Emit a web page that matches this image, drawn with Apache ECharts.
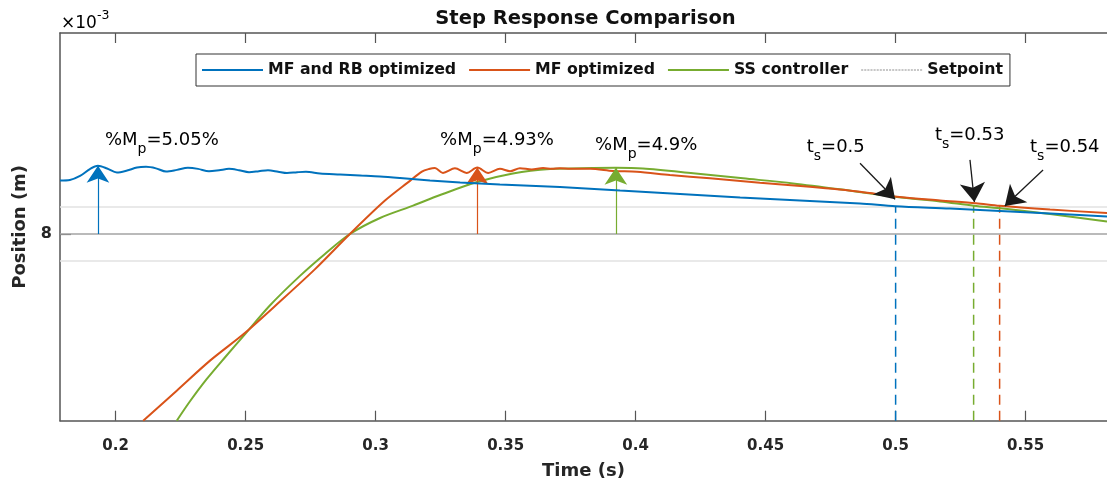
<!DOCTYPE html>
<html><head><meta charset="utf-8">
<script src="https://cdn.jsdelivr.net/npm/echarts@6/dist/echarts.min.js"></script>
<style>html,body{margin:0;padding:0;background:#fff}#c{width:1107px;height:487px}</style>
</head><body><div id="c"></div>
<script>
// ---------- data (time in s, position in units of 1e-3 m) ----------
const seriesNames = ['MF and RB optimized', 'MF optimized', 'SS controller', 'Setpoint'];
const seriesColors = ['#0072BD', '#D95319', '#77AC30', '#a3a3a3'];

const xTicks = [0.2, 0.25, 0.3, 0.35, 0.4, 0.45, 0.5, 0.55];
const yTicks = [8];
const xRange = [0.1786, 0.5813];
const yRange = [6.894, 9.191];

const tBlue = [0.1786,0.1824,0.1863,0.1901,0.1932,0.1967,0.2005,0.2044,0.2082,0.2117,0.2155,0.2194,0.2236,0.2278,0.2317,0.2359,0.2398,0.2436,0.2474,0.2513,0.2551,0.2586,0.2625,0.2659,0.2698,0.2732,0.2786,0.2863,0.2940,0.3017,0.3094,0.3209,0.3325,0.3478,0.3709,0.3940,0.4171,0.4402,0.4632,0.4863,0.5000,0.5209,0.5402,0.5594,0.5813];
const vBlue = [8.317,8.320,8.344,8.385,8.404,8.388,8.364,8.376,8.394,8.398,8.389,8.370,8.380,8.392,8.386,8.372,8.378,8.386,8.378,8.366,8.372,8.378,8.369,8.361,8.366,8.369,8.359,8.353,8.347,8.341,8.332,8.317,8.305,8.293,8.279,8.258,8.237,8.216,8.199,8.181,8.165,8.151,8.136,8.121,8.104];

const tOrange = [0.2106,0.2235,0.2363,0.2498,0.2632,0.2767,0.2901,0.3036,0.3132,0.3178,0.3205,0.3228,0.3259,0.3305,0.3350,0.3391,0.3433,0.3478,0.3517,0.3555,0.3600,0.3644,0.3678,0.3709,0.3748,0.3825,0.3913,0.4005,0.4132,0.4286,0.4478,0.4670,0.4863,0.5005,0.5171,0.5309,0.5400,0.5594,0.5813];
const vOrange = [6.894,7.072,7.250,7.415,7.600,7.792,8.000,8.198,8.315,8.370,8.385,8.391,8.362,8.389,8.362,8.394,8.362,8.386,8.372,8.390,8.383,8.391,8.386,8.390,8.386,8.387,8.374,8.369,8.350,8.330,8.304,8.280,8.251,8.221,8.199,8.182,8.167,8.145,8.124];

const tGreen = [0.2235,0.2286,0.2350,0.2421,0.2498,0.2594,0.2709,0.2805,0.2901,0.3017,0.3144,0.3248,0.3390,0.3528,0.3671,0.3836,0.3924,0.4028,0.4221,0.4413,0.4605,0.4786,0.5005,0.5171,0.5300,0.5413,0.5594,0.5813];
const vGreen = [6.894,7.009,7.140,7.270,7.407,7.578,7.752,7.882,8.000,8.095,8.168,8.231,8.308,8.359,8.385,8.391,8.392,8.388,8.360,8.330,8.300,8.265,8.219,8.193,8.168,8.151,8.119,8.074];

const setpoint = 8;
const bandLevels = [8.16, 7.84];

// overshoot annotations
const peakT = [0.1932, 0.3391, 0.3924];
const peakV = [8.404, 8.394, 8.392];
const peakText = ['5.05%', '4.93%', '4.9%'];
const peakLabelT = [0.1959, 0.3248, 0.3844];
const peakLabelV = [8.517, 8.517, 8.488];

// settling-time annotations
const settleT = [0.50, 0.53, 0.54];
const settleV = [8.165, 8.168, 8.167];
const settleText = ['0.5', '0.53', '0.54'];
const settleLabelT = [0.4658, 0.5151, 0.5517];
const settleLabelV = [8.478, 8.547, 8.478];
const settleArrowFromT = [0.4863, 0.5286, 0.5567];
const settleArrowFromV = [8.419, 8.439, 8.379];
const settleArrowToT = [0.4998, 0.5303, 0.5420];
const settleArrowToV = [8.206, 8.190, 8.166];

// ---------- chart ----------
const FONT = '"DejaVu Sans", "Liberation Sans", Arial, sans-serif';
const AX = '#555555';
const zip = (a, b) => a.map((x, i) => [x, b[i]]);
const curves = [zip(tBlue, vBlue), zip(tOrange, vOrange), zip(tGreen, vGreen)];
const settleColor = [seriesColors[0], seriesColors[2], seriesColors[1]];

// legend icons: solid bar, and a dotted bar for the setpoint
const solidIcon = 'rect';
let dots = '';
for (let i = 0; i < 60; i += 3) dots += 'M' + i + ',0h2v1h-2z';
const dottedIcon = 'path://' + dots;

const chart = echarts.init(document.getElementById('c'), null, {renderer: 'canvas'});

const series = [];
bandLevels.forEach(b => series.push({
  type: 'line', name: 'band', data: [[xRange[0], b], [xRange[1], b]], symbol: 'none', silent: true,
  lineStyle: {color: '#e2e2e2', width: 1.5}, z: 1
}));
series.push({
  type: 'line', name: 'Setpoint', data: [[xRange[0], setpoint], [xRange[1], setpoint]], symbol: 'none', silent: true,
  lineStyle: {color: seriesColors[3], width: 1.5}, itemStyle: {color: '#8f8f8f'}, z: 1,
  markLine: {
    silent: true, symbol: ['none', 'arrow'], symbolSize: 19, label: {show: false}, animation: false,
    lineStyle: {color: '#1a1a1a', width: 1.3, type: 'solid'},
    data: settleArrowFromT.map((t, i) => [{coord: [t, settleArrowFromV[i]]}, {coord: [settleArrowToT[i], settleArrowToV[i]]}])
  }
});
settleT.forEach((t, i) => series.push({
  type: 'line', name: 'settle' + i, data: [[t, yRange[0]], [t, settleV[i]]], symbol: 'none', silent: true,
  lineStyle: {color: settleColor[i], width: 1.5, type: [10, 6]}, z: 2
}));
for (let i = 0; i < 3; i++) {
  series.push({
    type: 'line', name: seriesNames[i], data: curves[i], symbol: 'none', showSymbol: false,
    smooth: 0.3, silent: true,
    lineStyle: {color: seriesColors[i], width: 2}, itemStyle: {color: seriesColors[i]}, z: 5 - i,
    markLine: {
      silent: true, symbol: ['none', 'arrow'], symbolSize: 17, label: {show: false}, animation: false,
      lineStyle: {color: seriesColors[i], width: 1.2, type: 'solid'},
      data: [[{coord: [peakT[i], setpoint]}, {coord: [peakT[i], peakV[i]]}]]
    }
  });
}

const tickLabel = {fontFamily: FONT, fontWeight: 'bold', fontSize: 15, color: '#262626'};

chart.setOption({
  animation: false,
  backgroundColor: '#ffffff',
  title: {
    text: 'Step Response Comparison', left: 585.5, top: 9, padding: 0, textAlign: 'center',
    textStyle: {fontFamily: FONT, fontWeight: 'bold', fontSize: 19.5, color: '#111'}
  },
  legend: {
    data: [
      {name: seriesNames[0], icon: solidIcon}, {name: seriesNames[1], icon: solidIcon},
      {name: seriesNames[2], icon: solidIcon}, {name: seriesNames[3], icon: dottedIcon}
    ],
    left: 196, top: 54, padding: [7, 7, 7, 6], itemGap: 13, itemWidth: 61, itemHeight: 2,
    borderColor: '#333', borderWidth: 1, backgroundColor: '#fff', selectedMode: false,
    textStyle: {fontFamily: FONT, fontWeight: 'bold', fontSize: 15.75, lineHeight: 18, color: '#111'},
    z: 20
  },
  grid: {left: 60, top: 33, right: 0, bottom: 66.3, containLabel: false},
  xAxis: [{
    type: 'value', min: xRange[0], max: xRange[1], position: 'bottom',
    name: 'Time (s)', nameLocation: 'middle', nameGap: 42,
    nameTextStyle: {fontFamily: FONT, fontWeight: 'bold', fontSize: 18, color: '#262626'},
    axisLine: {show: true, onZero: false, lineStyle: {color: AX, width: 1.5}},
    axisTick: {show: true, inside: true, length: 10, customValues: xTicks, lineStyle: {color: AX, width: 1.2}},
    axisLabel: {show: true, margin: 18, customValues: xTicks, formatter: v => String(+v.toFixed(2)), ...tickLabel},
    splitLine: {show: false}
  }, {
    type: 'value', min: xRange[0], max: xRange[1], position: 'top',
    axisLine: {show: true, onZero: false, lineStyle: {color: AX, width: 1.5}},
    axisTick: {show: true, inside: true, length: 10, customValues: xTicks, lineStyle: {color: AX, width: 1.2}},
    axisLabel: {show: false}, splitLine: {show: false}
  }],
  yAxis: [{
    type: 'value', min: yRange[0], max: yRange[1],
    name: 'Position (m)', nameLocation: 'middle', nameGap: 31, nameRotate: 90,
    nameTextStyle: {fontFamily: FONT, fontWeight: 'bold', fontSize: 18, color: '#262626'},
    axisLine: {show: true, onZero: false, lineStyle: {color: AX, width: 1.5}},
    axisTick: {show: true, inside: true, length: 11, customValues: yTicks, lineStyle: {color: AX, width: 1.2}},
    axisLabel: {show: true, margin: 8, customValues: yTicks, formatter: v => String(v), ...tickLabel, fontSize: 16},
    splitLine: {show: false}
  }],
  series: series
});

// ---------- text annotations (positioned from data coordinates) ----------
const richMain = {fontFamily: FONT, fontSize: 18, lineHeight: 18, verticalAlign: 'top', color: '#111'};
const richSub = {fontFamily: FONT, fontSize: 14, lineHeight: 14, verticalAlign: 'top', padding: [11, 0, 0, 0], color: '#111'};
const graphics = [];
function addLabel(t, v, txt) {
  const p = chart.convertToPixel({xAxisIndex: 0, yAxisIndex: 0}, [t, v]);
  graphics.push({
    type: 'text', left: p[0], top: p[1] - 15, z: 30, silent: true,
    style: {text: txt, rich: {a: richMain, s: richSub}}
  });
}
peakText.forEach((s, i) => addLabel(peakLabelT[i], peakLabelV[i], '{a|%M}{s|p}{a|=' + s + '}'));
settleText.forEach((s, i) => addLabel(settleLabelT[i], settleLabelV[i], '{a|t}{s|s}{a|=' + s + '}'));
graphics.push({
  type: 'text', left: 61, top: 9, z: 30, silent: true,
  style: {
    text: '{m|×10}{e|-3}',
    rich: {
      m: {fontFamily: FONT, fontSize: 17, lineHeight: 17, verticalAlign: 'top', padding: [6, 0, 0, 0], color: '#262626'},
      e: {fontFamily: FONT, fontSize: 12.5, lineHeight: 12.5, verticalAlign: 'top', color: '#262626'}
    }
  }
});
chart.setOption({graphic: graphics});
</script>
</body></html>
